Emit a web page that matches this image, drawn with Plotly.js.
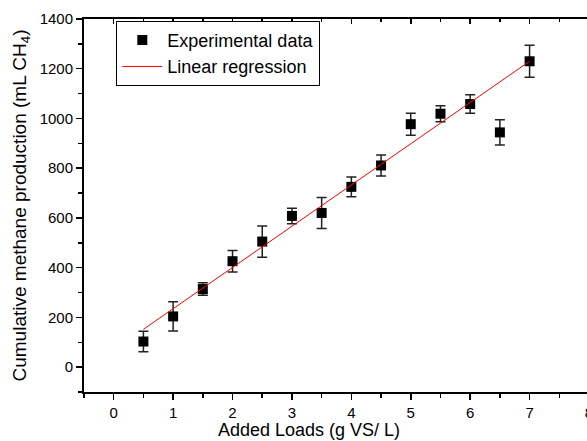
<!DOCTYPE html>
<html>
<head>
<meta charset="utf-8">
<script src="https://cdn.plot.ly/plotly-3.0.1.min.js"></script>
<style>
html,body{margin:0;padding:0;overflow:hidden;background:#fff;}
#chart{width:600px;height:441px;}
</style>
</head>
<body>
<div id="chart"></div>
<script>
// Data
var loads = [0.5, 1, 1.5, 2, 2.5, 3, 3.5, 4, 4.5, 5, 5.5, 6, 6.5, 7];
var methane = [103, 204, 314, 426, 505, 608, 620, 725, 811, 977, 1019, 1058, 944, 1230];
var methaneErr = [41, 59, 25, 43, 63, 31, 62, 40, 42, 44, 32, 37, 51, 64];
var regLoads = [0.5, 7];
var regMethane = [152, 1230];
var xTickVals = [0, 1, 2, 3, 4, 5, 6, 7, 8];
var yTickVals = [0, 200, 400, 600, 800, 1000, 1200, 1400];

var font = "Liberation Sans, Arial, sans-serif";

var traces = [
  {
    x: loads, y: methane, type: 'scatter', mode: 'markers',
    name: 'Experimental data',
    marker: {symbol: 'square', size: 10, color: '#000'},
    error_y: {type: 'data', array: methaneErr, visible: true, color: '#222', thickness: 1.5, width: 5}
  },
  {
    x: regLoads, y: regMethane, type: 'scatter', mode: 'lines',
    name: 'Linear regression',
    line: {color: '#ff0000', width: 1}
  },
  {
    x: [0], y: [0], xaxis: 'x2', type: 'scatter', mode: 'markers',
    marker: {opacity: 0}, showlegend: false, hoverinfo: 'skip'
  }
];

var layout = {
  width: 600, height: 441,
  margin: {l: 84, r: 11, t: 19, b: 49},
  paper_bgcolor: '#fff', plot_bgcolor: '#fff',
  font: {family: font, color: '#000', size: 15},
  showlegend: true,
  legend: {
    x: 0.064, y: 0.995, xanchor: 'left', yanchor: 'top',
    bordercolor: '#000', borderwidth: 1, bgcolor: '#fff',
    font: {family: font, size: 18, color: '#000'},
    tracegroupgap: 0, itemwidth: 40
  },
  annotations: [{
    text: 'Added Loads (g VS/ L)', xref: 'paper', yref: 'paper',
    x: 0.4455, y: 0, xanchor: 'center', yanchor: 'top', yshift: -26,
    showarrow: false, font: {size: 18, family: font, color: '#000'}
  }],
  xaxis: {
    range: [-0.5, 8], tickvals: xTickVals, ticks: 'outside', ticklen: 6, tickwidth: 1.5,
    tickcolor: '#000', showline: true, linecolor: '#000', linewidth: 2,
    showgrid: false, zeroline: false,
    minor: {dtick: 0.5, tick0: 0, ticks: 'outside', ticklen: 4, tickwidth: 1.5, tickcolor: '#000', showgrid: false},
    tickfont: {size: 15, family: font, color: '#000'}
  },
  xaxis2: {
    overlaying: 'x', side: 'top', range: [-0.5, 8], tickvals: xTickVals,
    ticks: 'inside', ticklen: 5, tickwidth: 1.5, tickcolor: '#000',
    showline: true, linecolor: '#000', linewidth: 2, showticklabels: false,
    showgrid: false, zeroline: false,
    minor: {dtick: 0.5, tick0: 0, ticks: 'inside', ticklen: 3, tickwidth: 1.5, tickcolor: '#000', showgrid: false}
  },
  yaxis: {
    range: [-100, 1400], tickvals: yTickVals, ticks: 'outside', ticklen: 6, tickwidth: 1.5,
    tickcolor: '#000', showline: true, linecolor: '#000', linewidth: 2,
    showgrid: false, zeroline: false,
    minor: {dtick: 100, tick0: 0, ticks: 'outside', ticklen: 4, tickwidth: 1.5, tickcolor: '#000', showgrid: false},
    tickfont: {size: 15, family: font, color: '#000'},
    title: {text: 'Cumulative methane production (mL CH<sub>4</sub>)', font: {size: 19, family: font, color: '#000'}, standoff: 8}
  }
};

Plotly.newPlot('chart', traces, layout, {displayModeBar: false, staticPlot: true});
</script>
</body>
</html>
